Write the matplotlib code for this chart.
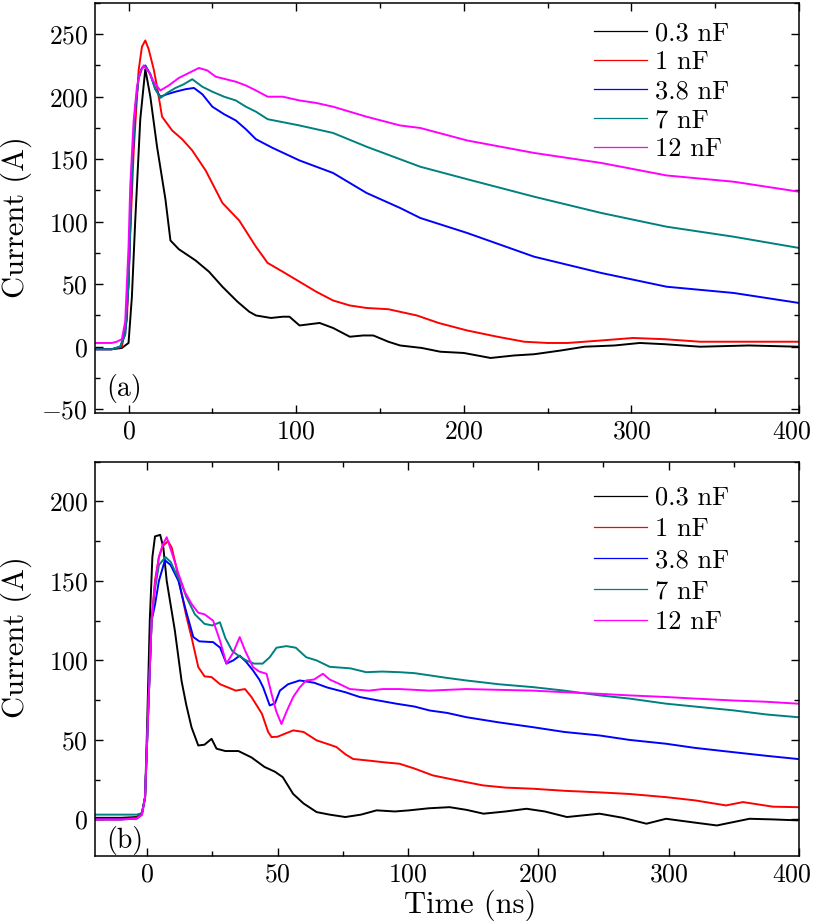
import numpy as np
import matplotlib
matplotlib.use('Agg')
import matplotlib.pyplot as plt
from matplotlib.lines import Line2D
from matplotlib.ticker import FixedLocator, MultipleLocator
from matplotlib.transforms import ScaledTranslation

plt.rcParams['font.family'] = 'cmr10'
plt.rcParams['mathtext.fontset'] = 'cm'
plt.rcParams['axes.formatter.use_mathtext'] = True
plt.rcParams['font.size'] = 19

labels = ['0.3 nF', '1 nF', '3.8 nF', '7 nF', '12 nF']
colors = ['black', '#ff0000', '#0000ff', '#008080', '#ff00ff']

# ---- panel (a) ----
t_a_03 = [-20, -10, -4, 0, 2, 4, 7, 10, 13, 17, 22, 25, 30, 40, 48, 56, 65, 72, 76, 85, 92, 96, 102, 108, 114,
          122, 132, 140, 146, 155, 162, 175, 186, 200, 216, 230, 242, 258, 272, 290, 305, 320, 341, 370, 400]
i_a_03 = [-2, -2, -1, 3, 40, 101, 182, 222, 200, 160, 118, 85, 78, 69, 60, 48, 36, 28, 25, 23, 24, 24, 17, 18, 19,
          15, 8, 9, 9, 4, 1, -1, -4, -5, -9, -7, -6, -3, 0, 1, 3, 2, 0, 1, 0]
t_a_1 = [-20, -10, -4, -1, 1, 3, 6, 8, 10, 12, 15, 17, 20, 26, 32, 38, 46, 56, 66, 76, 83, 92, 102, 112, 122,
         132, 142, 155, 172, 185, 202, 220, 236, 250, 262, 282, 301, 320, 341, 370, 400]
i_a_1 = [-2, -2, 0, 21, 90, 155, 221, 240, 245, 238, 222, 208, 184, 173, 166, 157, 141, 115, 101, 80, 67, 60, 52, 44, 37,
         33, 31, 30, 25, 19, 13, 8, 4, 3, 3, 5, 7, 6, 4, 4, 4]
t_a_38 = [-20, -10, -5, -2, 0, 2, 4, 6, 8, 10, 13, 16, 19, 23, 28, 34, 39, 44, 50, 57, 64, 70, 76, 86, 102,
          122, 142, 162, 174, 202, 242, 282, 321, 361, 400]
i_a_38 = [-2, -2, 0, 10, 50, 140, 190, 215, 223, 225, 218, 206, 200, 202, 204, 206, 207, 202, 192, 186, 181, 174, 166, 159, 149,
          139, 123, 111, 103, 91, 72, 59, 48, 43, 35]
t_a_7 = [-20, -10, -5, -2, 0, 2, 4, 6, 8, 10, 13, 16, 19, 23, 28, 33, 38, 44, 50, 57, 64, 70, 76, 83, 102,
         122, 142, 162, 174, 202, 242, 282, 321, 361, 400]
i_a_7 = [-2, -2, 0, 10, 50, 140, 190, 215, 223, 224, 218, 206, 199, 203, 207, 210, 214, 208, 204, 200, 197, 192, 188, 182, 177,
         171, 160, 150, 144, 134, 120, 107, 96, 88, 79]
t_a_12 = [-20, -10, -7, -4, -2, 0, 1, 3, 5, 7, 9, 12, 15, 19, 24, 30, 36, 42, 47, 52, 58, 64, 70, 76, 83,
          92, 102, 112, 122, 142, 162, 174, 202, 242, 282, 321, 361, 400]
i_a_12 = [3, 3, 4, 6, 20, 80, 128, 180, 208, 220, 225, 220, 212, 205, 209, 215, 219, 223, 221, 216, 214, 212, 209, 205, 200,
          200, 197, 195, 192, 184, 177, 175, 165, 155, 147, 137, 132, 124]

# ---- panel (b) ----
t_b_03 = [-20, -10, -4, -2, -0.8, 0, 1, 2, 3, 5, 6.2, 7.5, 9, 10.6, 13.2, 15, 17, 19.6, 22, 24.7, 26.6, 30, 35, 40, 45,
          49, 52, 56, 60, 65, 70, 76, 82, 88, 95, 101, 116, 132, 145, 158, 175, 191, 205, 222, 247, 265, 283, 298,
          320, 337, 362, 380, 399]
i_b_03 = [1, 1, 1.5, 4, 14, 60, 125, 165, 178, 179, 171, 150, 135, 119, 87, 72, 58, 46.5, 47, 50.7, 44.5, 43, 43, 39, 33,
          30, 26.6, 16, 10, 4.6, 3, 1.5, 3, 5.7, 5, 5.7, 7, 7.7, 6, 3.6, 5, 6.7, 5, 1.5, 3.6, 1, -2.7, 0.4,
          -2, -3.8, 0.4, 0, -0.6]
t_b_1 = [-20, -10, -4, -2, -0.8, 0.4, 1.7, 3, 4.5, 6, 8, 9.4, 11, 13.2, 15, 17, 19.6, 22, 24.7, 28, 31, 34, 37.5, 40, 44,
         46.4, 47.7, 50, 53, 56, 60, 65, 70, 72.6, 76, 79, 85, 90.4, 96.8, 105, 119, 135, 157.6, 175, 196, 220, 247,
         270, 298, 320, 344, 357, 380, 399]
i_b_1 = [0, 0, 1, 4, 14, 68, 125, 150, 165, 172, 175, 171, 160, 142, 128, 114.7, 95.8, 90, 89.5, 85, 83, 81, 82, 77, 66.5,
         55, 51.8, 52, 54, 56, 55, 49.7, 47, 45.5, 41, 38, 37, 36, 35, 32, 27.7, 25, 21.4, 20, 19.3, 18, 17,
         16, 14, 12, 8.8, 10.9, 8, 7.7]
t_b_38 = [-20, -10, -4, -2, -0.8, 0.4, 1.7, 3, 4.5, 6.8, 9, 12, 14.5, 17.7, 20, 25.3, 28, 30.4, 33, 35.5, 38, 40.6, 43,
          44.5, 47, 49, 50.9, 54, 58.5, 64, 69, 76, 81.5, 88, 95.5, 105, 116.7, 130, 144.8, 170, 196, 220, 247, 270,
          298, 320, 349.5, 375, 399]
i_b_38 = [0, 0, 0.5, 3, 14, 68, 125, 135, 150, 163, 160, 150, 133.5, 114.7, 112, 111.5, 108, 98, 100, 103, 99, 93.7, 88,
          83, 71.7, 73, 81, 85, 87.4, 86, 83, 80, 77, 75, 72.8, 71, 68.5, 67, 64.3, 61, 58, 55, 52.8, 50,
          47.6, 45, 42.3, 40, 38]
t_b_7 = [-20, -10, -4, -2, -0.8, 0.4, 1.7, 3, 4.5, 7, 9, 11, 13.2, 15, 18.3, 22, 25, 27.9, 30, 32.6, 35, 38, 41, 44.3,
         47, 49.6, 53.4, 57, 61, 65, 70, 74, 78, 84, 90, 96.8, 105, 116.7, 130, 144.8, 170, 196, 220, 247, 270,
         298, 320, 349.5, 375, 399]
i_b_7 = [3, 3, 3, 4, 14, 68, 125, 145, 160, 165, 162, 155, 148, 140, 129, 123, 122, 124, 114, 106, 103, 100, 98, 98,
         102, 108, 109, 108, 102, 100, 96, 95.5, 95, 92.6, 93, 92.6, 92, 90.6, 89, 87.4, 85, 83.2, 81, 78, 76,
         72.8, 71, 68.6, 66, 64.3]
t_b_12 = [-20, -10, -4, -2, -0.8, 0.4, 1.7, 3, 4.5, 6, 7.5, 9, 10, 12, 14.5, 17, 19.6, 22, 25.3, 28, 30.4, 33, 35.5,
          37.6, 40.6, 43, 45.8, 47.7, 49.5, 51.5, 53.5, 56, 58.5, 61, 64, 67.4, 70, 74, 77.7, 85, 90.4, 96.8,
          116.7, 144.8, 170, 196, 220, 247, 270, 298, 320, 349.5, 375, 399]
i_b_12 = [0, 0, 0.5, 3, 14, 68, 125, 148, 165, 173, 177.5, 170, 165, 154.5, 143, 135.6, 130, 129, 125, 112, 98, 105,
          114.7, 106, 95.8, 93, 91.6, 79, 68, 60, 68, 77, 83, 87.4, 88, 91.6, 88, 85, 82, 81, 82, 82,
          81, 82, 81.5, 81, 80, 79, 78, 77, 76, 74.8, 74, 72.8]

series_a = [(t_a_03, i_a_03), (t_a_1, i_a_1), (t_a_38, i_a_38), (t_a_7, i_a_7), (t_a_12, i_a_12)]
series_b = [(t_b_03, i_b_03), (t_b_1, i_b_1), (t_b_38, i_b_38), (t_b_7, i_b_7), (t_b_12, i_b_12)]


# bottom panel: 0-100 ns stretched two times relative to 100-400 ns
def fwd(x):
    x = np.asarray(x, dtype=float)
    return np.where(x < 100, x, 100 + (x - 100) / 2.0)


def inv(u):
    u = np.asarray(u, dtype=float)
    return np.where(u < 100, u, 100 + (u - 100) * 2.0)


fig = plt.figure(figsize=(8.17, 9.21), dpi=100)
ax1 = fig.add_axes([0.1163, 0.5516, 0.8617, 0.4452])
ax2 = fig.add_axes([0.1163, 0.0706, 0.8617, 0.4281])


def style(ax):
    ax.tick_params(which='both', direction='in', top=True, right=True, width=1, labelsize=18.5)
    ax.tick_params(which='major', length=6, pad=5)
    ax.tick_params(which='minor', length=3.5)
    for s in ax.spines.values():
        s.set_linewidth(1.1)


for (t, i), c in zip(series_a, colors):
    ax1.plot(t, i, color=c, lw=1.4)
ax1.set_xlim(-20, 400)
ax1.set_ylim(-53, 275)
ax1.xaxis.set_major_locator(FixedLocator([0, 100, 200, 300, 400]))
ax1.xaxis.set_minor_locator(FixedLocator([50, 150, 250, 350]))
ax1.yaxis.set_major_locator(MultipleLocator(50))
ax1.yaxis.set_minor_locator(MultipleLocator(25))
ax1.set_ylabel('Current (A)', fontsize=22)
ax1.yaxis.set_label_coords(-0.09, 0.478)
ax1.text(0.016, 0.06, '(a)', transform=ax1.transAxes, fontsize=20, va='center')
style(ax1)

ax2.set_xscale('function', functions=(fwd, inv))
for (t, i), c in zip(series_b, colors):
    ax2.plot(t, i, color=c, lw=1.4)
ax2.set_xlim(-20, 400)
ax2.set_ylim(-23, 225)
ax2.xaxis.set_major_locator(FixedLocator([0, 50, 100, 200, 300, 400]))
ax2.xaxis.set_minor_locator(FixedLocator([25, 75, 150, 250, 350]))
ax2.yaxis.set_major_locator(MultipleLocator(50))
ax2.yaxis.set_minor_locator(MultipleLocator(25))
ax2.set_ylabel('Current (A)', fontsize=22)
ax2.yaxis.set_label_coords(-0.09, 0.554)
ax2.set_xlabel('Time (ns)', fontsize=22)
ax2.xaxis.set_label_coords(0.533, -0.085)
ax2.text(0.016, 0.04, '(b)', transform=ax2.transAxes, fontsize=20, va='center')
style(ax2)

# nudge the "400" labels left so they stay inside the figure
for ax in (ax1, ax2):
    lab = ax.xaxis.get_major_ticks()[-1].label1
    lab.set_transform(lab.get_transform() + ScaledTranslation(-5 / 72, 0, fig.dpi_scale_trans))

handles = [Line2D([], [], color=c, lw=0.9) for c in colors]
ax1.legend(handles, labels, loc='upper left', bbox_to_anchor=(0.683, 1.0), frameon=False, borderpad=0.2,
           handlelength=2.0, handletextpad=0.3, labelspacing=0.2, fontsize=19)
ax2.legend(handles, labels, loc='upper left', bbox_to_anchor=(0.683, 0.985), frameon=False, borderpad=0.2,
           handlelength=2.0, handletextpad=0.3, labelspacing=0.28, fontsize=19)

fig.savefig('out.png', dpi=100)
